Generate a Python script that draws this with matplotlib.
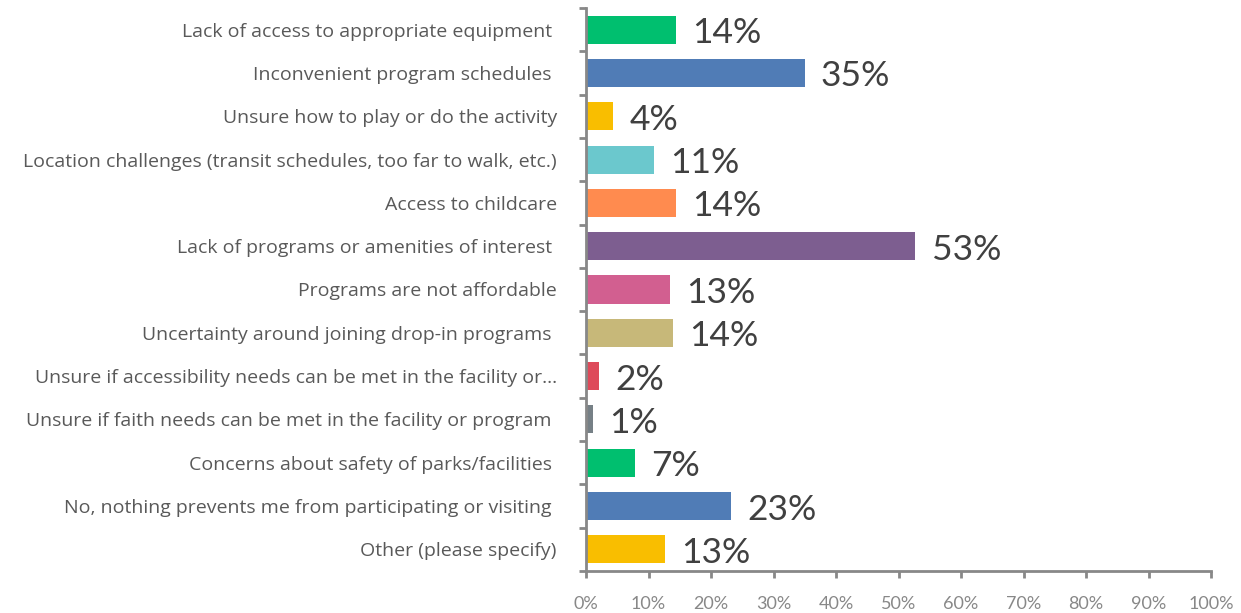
import numpy as np
import matplotlib
matplotlib.use("Agg")
import matplotlib.pyplot as plt
from matplotlib.ticker import FixedLocator

plt.rcParams['font.family'] = ['Lato', 'DejaVu Sans']

categories = [
    "Lack of access to appropriate equipment ",
    "Inconvenient program schedules ",
    "Unsure how to play or do the activity",
    "Location challenges (transit schedules, too far to walk, etc.)",
    "Access to childcare",
    "Lack of programs or amenities of interest ",
    "Programs are not affordable",
    "Uncertainty around joining drop-in programs ",
    "Unsure if accessibility needs can be met in the facility or\u2026",
    "Unsure if faith needs can be met in the facility or program ",
    "Concerns about safety of parks/facilities ",
    "No, nothing prevents me from participating or visiting ",
    "Other (please specify)",
]
values = [14.4, 35.0, 4.3, 10.9, 14.4, 52.7, 13.4, 13.9, 2.1, 1.1, 7.8, 23.2, 12.6]
value_labels = ["14%", "35%", "4%", "11%", "14%", "53%", "13%", "14%", "2%", "1%", "7%", "23%", "13%"]
colors = ["#00BF6F", "#507CB6", "#F9BE00", "#6BC8CD", "#FF8B4F", "#7D5E90", "#D25F90",
          "#C7B879", "#DE4A5A", "#768086", "#00BF6F", "#507CB6", "#F9BE00"]
xticks = np.arange(0, 101, 10)

fig = plt.figure(figsize=(12.41, 6.13), dpi=100)
ax = fig.add_axes([586/1241, 1 - 571/613, 625/1241, 563/613])

y = np.arange(len(categories))
ax.barh(y, values, height=0.65, color=colors)
for yi, v, lab in zip(y, values, value_labels):
    ax.text(v + 2.6, yi + 0.08, lab, va="center", ha="left", fontsize=25.5, color="#404040")

ax.set_xlim(0, 100)
ax.set_ylim(len(categories) - 0.5, -0.5)
ax.set_yticks(y)
ax.set_yticklabels(categories, fontsize=14, color="#595959", family=["Open Sans", "DejaVu Sans"])
ax.yaxis.set_minor_locator(FixedLocator(np.arange(-0.5, len(categories), 1)))
ax.tick_params(axis="y", which="major", length=0, pad=21)
ax.tick_params(axis="y", which="minor", length=5, width=2, color="#888888", direction="out")
ax.set_xticks(xticks)
ax.set_xticklabels(["%d%%" % t for t in xticks], fontsize=13, color="#888888")
ax.tick_params(axis="x", length=5, width=2, color="#888888", pad=13)

for s in ["top", "right"]:
    ax.spines[s].set_visible(False)
for s in ["left", "bottom"]:
    ax.spines[s].set_color("#888888")
    ax.spines[s].set_linewidth(2)

fig.savefig("out.png", dpi=100)
